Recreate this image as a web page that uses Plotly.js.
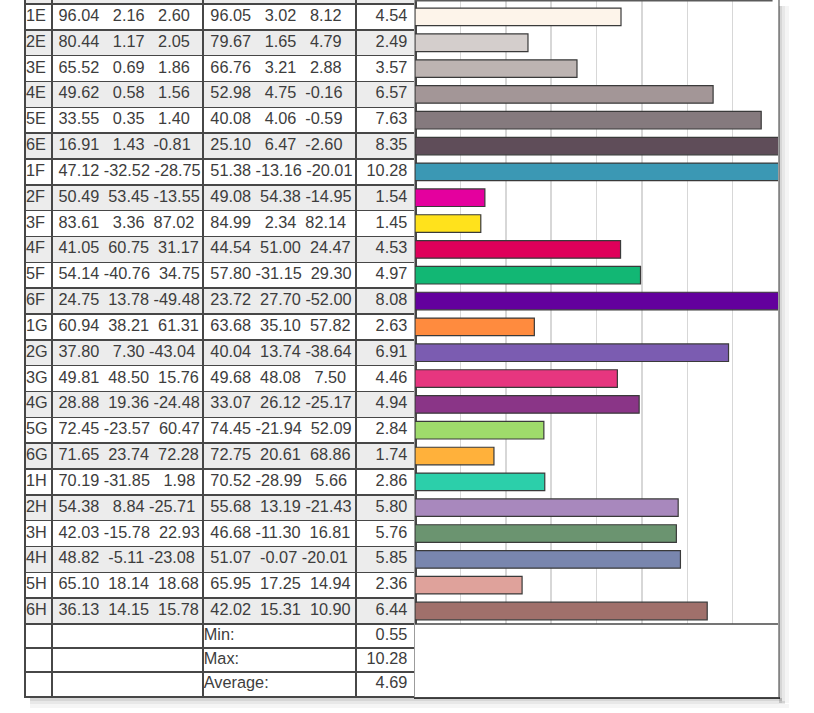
<!DOCTYPE html>
<html>
<head>
<meta charset="utf-8">
<script src="https://cdn.plot.ly/plotly-3.0.1.min.js"></script>
<style>html,body{margin:0;padding:0;background:#fff;}#chart{width:814px;height:713px;}</style>
</head>
<body>
<div id="chart"></div>
<script>
// ---- data ----
const ids = ["1E","2E","3E","4E","5E","6E","1F","2F","3F","4F","5F","6F","1G","2G","3G","4G","5G","6G","1H","2H","3H","4H","5H","6H"];
const L1 = [96.04,80.44,65.52,49.62,33.55,16.91,47.12,50.49,83.61,41.05,54.14,24.75,60.94,37.80,49.81,28.88,72.45,71.65,70.19,54.38,42.03,48.82,65.10,36.13];
const a1 = [2.16,1.17,0.69,0.58,0.35,1.43,-32.52,53.45,3.36,60.75,-40.76,13.78,38.21,7.30,48.50,19.36,-23.57,23.74,-31.85,8.84,-15.78,-5.11,18.14,14.15];
const b1 = [2.60,2.05,1.86,1.56,1.40,-0.81,-28.75,-13.55,87.02,31.17,34.75,-49.48,61.31,-43.04,15.76,-24.48,60.47,72.28,1.98,-25.71,22.93,-23.08,18.68,15.78];
const L2 = [96.05,79.67,66.76,52.98,40.08,25.10,51.38,49.08,84.99,44.54,57.80,23.72,63.68,40.04,49.68,33.07,74.45,72.75,70.52,55.68,46.68,51.07,65.95,42.02];
const a2 = [3.02,1.65,3.21,4.75,4.06,6.47,-13.16,54.38,2.34,51.00,-31.15,27.70,35.10,13.74,48.08,26.12,-21.94,20.61,-28.99,13.19,-11.30,-0.07,17.25,15.31];
const b2 = [8.12,4.79,2.88,-0.16,-0.59,-2.60,-20.01,-14.95,82.14,24.47,29.30,-52.00,57.82,-38.64,7.50,-25.17,52.09,68.86,5.66,-21.43,16.81,-20.01,14.94,10.90];
const dE = [4.54,2.49,3.57,6.57,7.63,8.35,10.28,1.54,1.45,4.53,4.97,8.08,2.63,6.91,4.46,4.94,2.84,1.74,2.86,5.80,5.76,5.85,2.36,6.44];
const summaryLabels = ["Min:","Max:","Average:"];
const summaryValues = [0.55,10.28,4.69];
const barColors = ["#fdf4ea","#d4cecc","#bdb4b2","#a39697","#857a7e","#5f4d59","#3b98b4","#e4009e","#ffe21c","#df005a","#12b774","#63009d","#ff8b3e","#7b5cb1","#e7367f","#8a3587","#9fdb6b","#ffb13b","#2ccfaa","#a888bd","#6b9470","#7986ae","#dfa29b","#a0706b"];

// ---- layout constants ----
const W = 814, H = 713;
const ROW = 25.83, TOP = 4;           // data row height / top of first row (px)
const SUMROW = 24 / ROW;              // summary row height in row units
const pxToU = px => (px - TOP) / ROW - 0.5;
const rowIdx = ids.map((_, i) => i);
const sumY = summaryLabels.map((_, k) => 23.5 + SUMROW * (k + 0.5));
const tableBottomU = 23.5 + SUMROW * 3;
const uTop = pxToU(0);
const tableBottomPx = 696, chartBottomPx = 697;

const NB = '\u00A0';
const fmt = v => { let s = v.toFixed(2); while (s.length < 6) s = NB + s; return s; };
const grp1 = ids.map((_, i) => [L1[i], a1[i], b1[i]].map(fmt).join(NB));
const grp2 = ids.map((_, i) => [L2[i], a2[i], b2[i]].map(fmt).join(NB));

const FONT = {family: "Liberation Sans, Arial, sans-serif", size: 16.3, color: "#3d3d3d"};
const LINE = "#474747";

const txt = (x, y, text, pos) => ({
  type: "scatter", mode: "text", x: y.map(() => x), y: y, text: text,
  textposition: pos, textfont: FONT, xaxis: "x", yaxis: "y",
  hoverinfo: "skip", showlegend: false, cliponaxis: false
});

const traces = [
  txt(26.05, rowIdx, ids, "middle right"),
  txt(54.0, rowIdx, grp1, "middle right"),
  txt(205.8, rowIdx, grp2, "middle right"),
  txt(407.3, rowIdx, dE.map(v => v.toFixed(2)), "middle left"),
  txt(203.8, sumY, summaryLabels, "middle right"),
  txt(407.3, sumY, summaryValues.map(v => v.toFixed(2)), "middle left"),
  {
    type: "bar", orientation: "h", x: dE, y: rowIdx, width: 0.68,
    xaxis: "x2", yaxis: "y2",
    marker: {color: barColors, line: {color: "#3a3a3a", width: 1.2}},
    hoverinfo: "skip", showlegend: false
  }
];

// alternating row fills
const shapes = [];
shapes.push({type: "rect", layer: "below", xref: "x", yref: "y", x0: 26, x1: 415, y0: uTop, y1: -0.5, fillcolor: "#ececec", line: {width: 0}});
rowIdx.forEach(i => {
  if (i % 2 === 1) shapes.push({type: "rect", layer: "below", xref: "x", yref: "y", x0: 26, x1: 415, y0: i - 0.5, y1: i + 0.5, fillcolor: "#ececec", line: {width: 0}});
});
// summary area of chart: white, no gridlines
shapes.push({type: "rect", layer: "between", xref: "x2", yref: "y2", x0: 0, x1: 8, y0: 23.5, y1: pxToU(chartBottomPx), fillcolor: "#ffffff", line: {width: 0}});
shapes.push({type: "line", layer: "between", xref: "x2", yref: "y2", x0: 0, x1: 8, y0: 23.5, y1: 23.5, line: {color: LINE, width: 1.5}});
// top edge of chart
shapes.push({type: "line", layer: "above", xref: "x2", yref: "y2", x0: 0, x1: 7.88, y0: uTop + 0.03, y1: uTop + 0.03, line: {color: "#5a5a5a", width: 1.5}});
// soft drop shadow
const px = (x) => x / W, py = (y) => 1 - y / H;
[[0.16, 0, 3], [0.09, 3, 6], [0.04, 6, 10]].forEach(([op, a, b]) => {
  shapes.push({type: "rect", xref: "paper", yref: "paper", x0: px(779 + a), x1: px(779 + b), y0: py(703), y1: py(6), fillcolor: "rgba(0,0,0," + op + ")", line: {width: 0}});
  shapes.push({type: "rect", xref: "paper", yref: "paper", x0: px(30), x1: px(779 + b), y0: py(698 + b), y1: py(698 + a), fillcolor: "rgba(0,0,0," + op + ")", line: {width: 0}});
});

const rowBoundaries = rowIdx.map(i => i - 0.5).concat([23.5, 23.5 + SUMROW, 23.5 + 2 * SUMROW]);

const layout = {
  width: W, height: H,
  margin: {l: 0, r: 0, t: 0, b: 0, pad: 0},
  paper_bgcolor: "#ffffff", plot_bgcolor: "rgba(0,0,0,0)",
  showlegend: false, hovermode: false,
  xaxis: {
    domain: [26 / W, 415 / W], range: [26, 415], fixedrange: true,
    tickvals: [52, 203, 356], showticklabels: false, ticks: "",
    showgrid: true, gridcolor: LINE, gridwidth: 1.6, zeroline: false,
    showline: true, linecolor: LINE, linewidth: 1.6, mirror: false, anchor: "y"
  },
  yaxis: {
    domain: [1 - tableBottomPx / H, 1], range: [tableBottomU, uTop], fixedrange: true,
    tickvals: rowBoundaries, showticklabels: false, ticks: "",
    showgrid: true, gridcolor: LINE, gridwidth: 1.4, zeroline: false,
    showline: true, linecolor: LINE, linewidth: 1.6, mirror: true, anchor: "x"
  },
  xaxis2: {
    domain: [415 / W, 778 / W], range: [0, 8], fixedrange: true,
    tickvals: [1, 2, 3, 4, 5, 6, 7], showticklabels: false, ticks: "",
    showgrid: true, gridcolor: "#d7d7d7", gridwidth: 1.5, zeroline: false,
    showline: true, linecolor: LINE, linewidth: 1.6, mirror: false, anchor: "y2"
  },
  yaxis2: {
    domain: [1 - chartBottomPx / H, 1], range: [pxToU(chartBottomPx), uTop], fixedrange: true,
    showticklabels: false, ticks: "", showgrid: false, zeroline: false,
    showline: true, linecolor: "#9c9c9c", linewidth: 1.5, mirror: true, anchor: "x2"
  },
  shapes: shapes
};

Plotly.newPlot("chart", traces, layout, {staticPlot: true, displayModeBar: false});
</script>
</body>
</html>
